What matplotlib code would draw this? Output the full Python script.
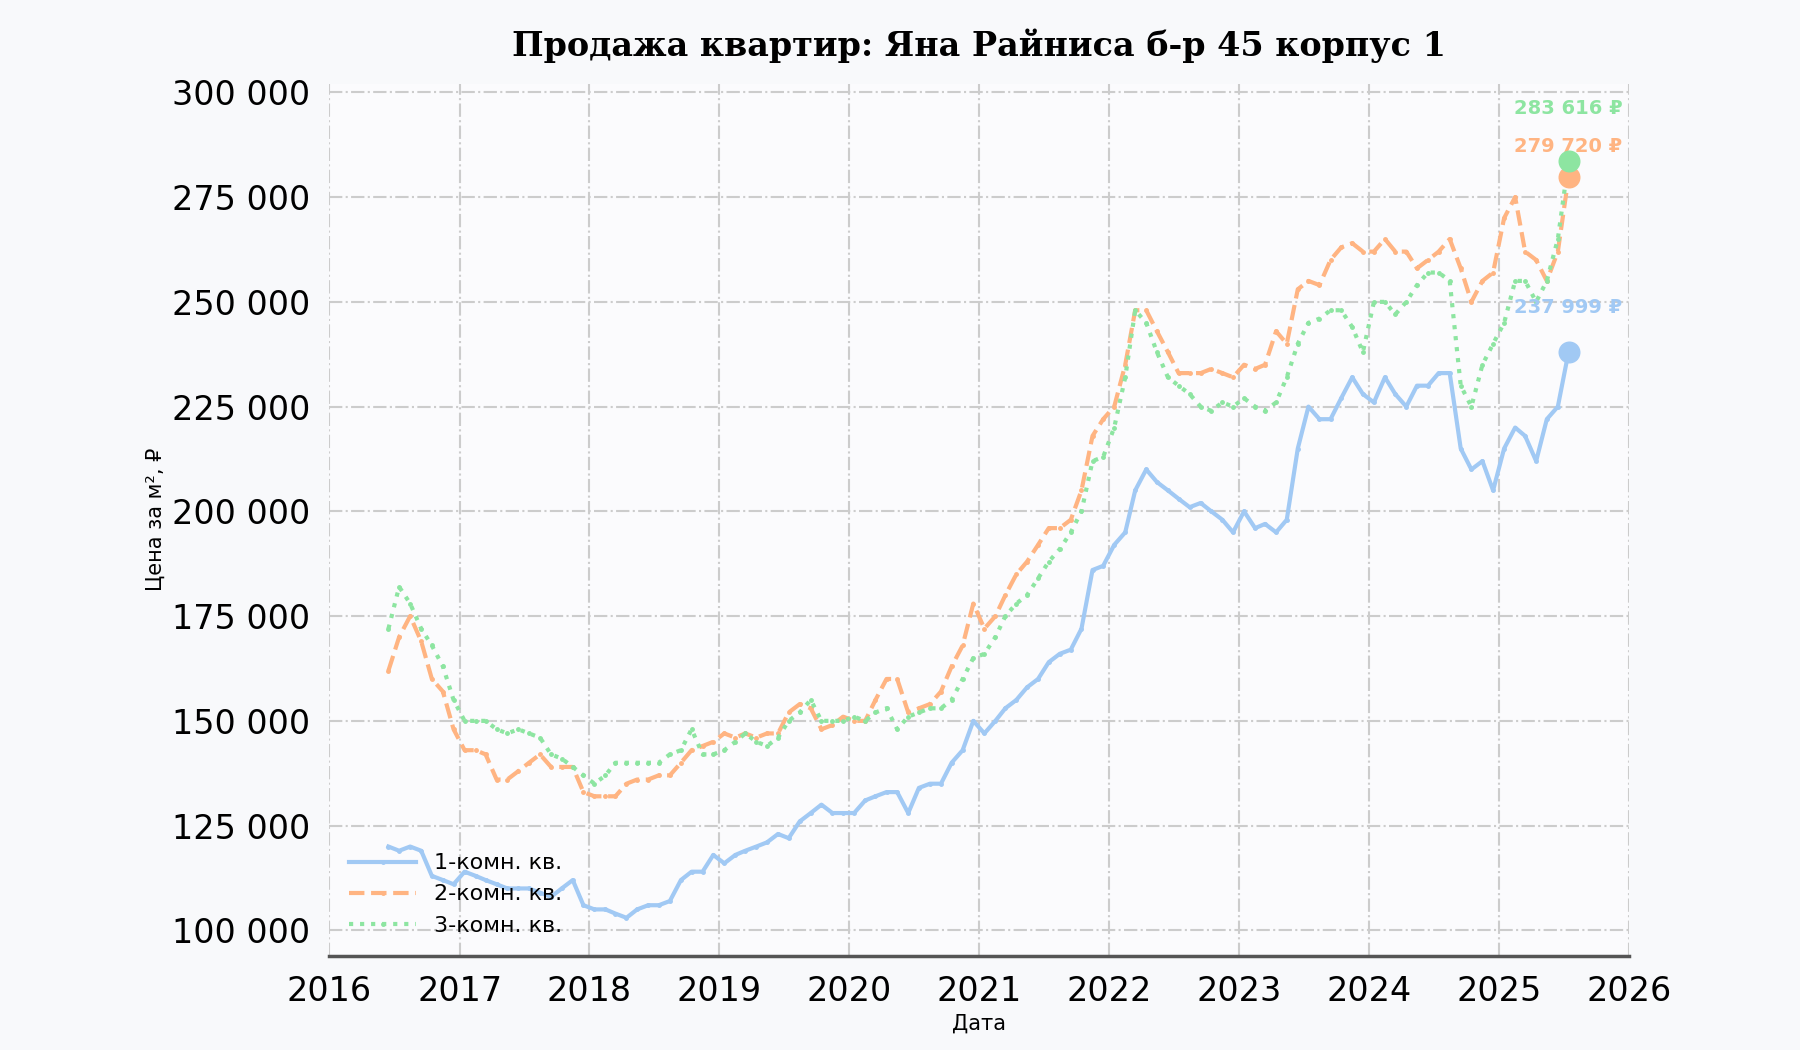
import matplotlib.pyplot as plt
import matplotlib.dates as mdates
import matplotlib.ticker as mticker
import pandas as pd

# ежемесячные значения, тыс. руб за м², с июня 2016 по июль 2025
dates = pd.date_range('2016-06-01', periods=110, freq='MS') + pd.Timedelta(days=14)

room1 = [120, 119, 120, 119, 113, 112, 111,
         114, 113, 112, 111, 110, 110, 110, 109, 108, 110, 112, 106,
         105, 105, 104, 103, 105, 106, 106, 107, 112, 114, 114, 118,
         116, 118, 119, 120, 121, 123, 122, 126, 128, 130, 128, 128,
         128, 131, 132, 133, 133, 128, 134, 135, 135, 140, 143, 150,
         147, 150, 153, 155, 158, 160, 164, 166, 167, 172, 186, 187,
         192, 195, 205, 210, 207, 205, 203, 201, 202, 200, 198, 195,
         200, 196, 197, 195, 198, 215, 225, 222, 222, 227, 232, 228,
         226, 232, 228, 225, 230, 230, 233, 233, 215, 210, 212, 205,
         215, 220, 218, 212, 222, 225, 237.999]
room2 = [162, 170, 175, 169, 160, 157, 148,
         143, 143, 142, 136, 136, 138, 140, 142, 139, 139, 139, 133,
         132, 132, 132, 135, 136, 136, 137, 137, 140, 143, 144, 145,
         147, 146, 147, 146, 147, 147, 152, 154, 153, 148, 149, 151,
         150, 150, 155, 160, 160, 152, 153, 154, 157, 163, 168, 178,
         172, 175, 180, 185, 188, 192, 196, 196, 198, 205, 218, 222,
         225, 235, 248, 248, 243, 238, 233, 233, 233, 234, 233, 232,
         235, 234, 235, 243, 240, 253, 255, 254, 260, 263, 264, 262,
         262, 265, 262, 262, 258, 260, 262, 265, 258, 250, 255, 257,
         270, 275, 262, 260, 255, 262, 279.720]
room3 = [172, 182, 178, 172, 168, 163, 155,
         150, 150, 150, 148, 147, 148, 147, 146, 142, 141, 139, 137,
         135, 137, 140, 140, 140, 140, 140, 142, 143, 148, 142, 142,
         143, 145, 147, 145, 144, 146, 150, 152, 155, 150, 150, 150,
         151, 150, 152, 153, 148, 151, 152, 153, 153, 155, 160, 165,
         166, 170, 175, 178, 180, 184, 188, 191, 195, 200, 212, 213,
         220, 232, 248, 245, 238, 232, 230, 228, 225, 224, 226, 225,
         227, 225, 224, 226, 232, 240, 245, 246, 248, 248, 244, 238,
         250, 250, 247, 250, 254, 257, 257, 255, 230, 225, 235, 240,
         245, 255, 255, 250, 255, 265, 283.616]

series = [('1-комн. кв.', room1, '#a1c9f4', '-', 28),
          ('2-комн. кв.', room2, '#ffb482', '--', 18),
          ('3-комн. кв.', room3, '#8de5a1', ':', 34)]

plt.rcParams['font.family'] = ['DejaVu Sans']
fig, ax = plt.subplots(figsize=(18, 10.5), dpi=100)
fig.patch.set_facecolor('#f8f9fb')
ax.set_facecolor('#fbfbfd')

for name, vals, col, ls, off in series:
    v = [x * 1000 for x in vals]
    ax.plot(dates, v, ls, color=col, lw=3, marker='o', ms=2.5, label=name)
    ax.scatter(dates[-1], v[-1], s=220, color=col, zorder=5)
    ax.annotate(f'{round(v[-1]):,} ₽'.replace(',', ' '), (dates[-1], v[-1]),
                xytext=(0, off), textcoords='offset points', ha='center',
                color=col, fontsize=14, fontweight='bold')

ax.set_title('Продажа квартир: Яна Райниса б-р 45 корпус 1', fontsize=24,
             fontweight='bold', family='DejaVu Serif', pad=20)
ax.set_xlabel('Дата', fontsize=15)
ax.set_ylabel('Цена за м², ₽', fontsize=15)
ax.set_xlim(pd.Timestamp('2016-01-01'), pd.Timestamp('2026-01-01'))
ax.set_ylim(94000, 302000)
ax.xaxis.set_major_locator(mdates.YearLocator())
ax.xaxis.set_major_formatter(mdates.DateFormatter('%Y'))
ax.yaxis.set_major_locator(mticker.MultipleLocator(25000))
ax.yaxis.set_major_formatter(mticker.FuncFormatter(lambda x, p: f'{int(x):,}'.replace(',', ' ')))
ax.tick_params(labelsize=24, length=0, pad=14)
ax.grid(True, ls='-.', color='#cccccc', lw=1.5)
for s in ['top', 'right', 'left']:
    ax.spines[s].set_visible(False)
ax.spines['bottom'].set_color('#555555')
ax.spines['bottom'].set_linewidth(2.5)
ax.legend(loc='lower left', fontsize=16, frameon=False, handlelength=3)
plt.subplots_adjust(left=0.183, right=0.905, top=0.92, bottom=0.09)
plt.savefig('out.png', facecolor=fig.get_facecolor())
